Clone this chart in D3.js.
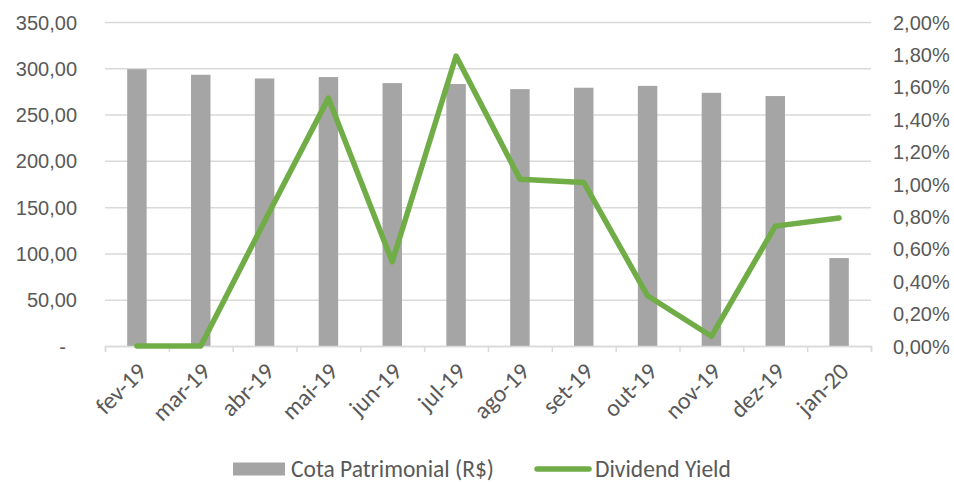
<!DOCTYPE html>
<html>
<head>
<meta charset="utf-8">
<script src="https://cdn.jsdelivr.net/npm/d3@7"></script>
<style>
  body { margin: 0; background: #fff; }
  svg { display: block; font-family: Carlito, Calibri, "Open Sans", sans-serif; }
  .lbl { fill: #595959; font-size: 20px; }
  .big { fill: #595959; font-size: 24px; }
  .leg { fill: #595959; font-size: 23.5px; }
</style>
</head>
<body>
<svg id="chart" width="954" height="482"></svg>
<script>
// months on the category axis
const months = ['fev-19', 'mar-19', 'abr-19', 'mai-19', 'jun-19', 'jul-19',
                'ago-19', 'set-19', 'out-19', 'nov-19', 'dez-19', 'jan-20'];
// Cota Patrimonial (R$), bars, left axis
const cota = [299, 293, 289, 290.5, 284, 283, 277.5, 279, 281, 273.5, 270, 95];
// Dividend Yield, line, right axis (fraction)
const dy = [0, 0, 0.0077, 0.0153, 0.0052, 0.0179, 0.0103, 0.0101, 0.0031, 0.0006, 0.0074, 0.0079];

const leftTicks = [0, 50, 100, 150, 200, 250, 300, 350];
const rightTicks = [0, 0.002, 0.004, 0.006, 0.008, 0.01, 0.012, 0.014, 0.016, 0.018, 0.02];

const ptBR = d3.formatLocale({ decimal: ',', thousands: '.', grouping: [3], currency: ['R$', ''] });
const fmtNum = ptBR.format(',.2f');
const fmtPct = ptBR.format('.2%');

const L = 105, R = 871, T = 22, B = 346;
const svg = d3.select('#chart');

const x = d3.scaleBand().domain(months).range([L, R]).padding(0);
const xi = d3.scaleLinear().domain([0, months.length]).range([L, R]);
const yL = d3.scaleLinear().domain([0, 350]).range([B, T]);
const yR = d3.scaleLinear().domain([0, 0.02]).range([B, T]);

const grid = '#d9d9d9';

// gridlines + left labels
const gl = svg.append('g')
  .attr('transform', `translate(${L},0)`)
  .call(d3.axisLeft(yL).tickValues(leftTicks).tickSize(-(R - L)).tickPadding(28)
    .tickFormat(d => d === 0 ? '-' : fmtNum(d)));
gl.select('.domain').remove();
gl.selectAll('.tick line').attr('stroke', grid).attr('stroke-width', 1.5);
gl.selectAll('.tick text').attr('class', 'lbl').attr('font-family', null).attr('font-size', null)
  .attr('fill', null).attr('dy', '0.35em');
gl.selectAll('.tick text').filter(d => d === 0).attr('dx', -11);

// right labels
const gr = svg.append('g')
  .attr('transform', `translate(${R},0)`)
  .call(d3.axisRight(yR).tickValues(rightTicks).tickSize(0).tickPadding(22).tickFormat(fmtPct));
gr.select('.domain').remove();
gr.selectAll('.tick text').attr('class', 'lbl').attr('font-family', null).attr('font-size', null)
  .attr('fill', null).attr('dy', '0.35em');

// bars
const bw = x.bandwidth() * 0.305;
svg.append('g').selectAll('rect')
  .data(cota)
  .join('rect')
  .attr('x', (d, i) => x(months[i]) + (x.bandwidth() - bw) / 2)
  .attr('y', d => yL(d))
  .attr('width', bw)
  .attr('height', d => B - yL(d))
  .attr('fill', '#a5a5a5');

// category axis with ticks at band boundaries
const gx = svg.append('g')
  .attr('transform', `translate(0,${B})`)
  .call(d3.axisBottom(xi).ticks(months.length).tickSize(6).tickFormat(''));
gx.select('.domain').attr('stroke', grid).attr('stroke-width', 1.5);
gx.selectAll('.tick line').attr('stroke', grid).attr('stroke-width', 1.5);

// rotated month labels
svg.append('g').selectAll('text')
  .data(months)
  .join('text')
  .attr('class', 'big')
  .attr('text-anchor', 'end')
  .attr('transform', d => `translate(${x(d) + x.bandwidth() / 2 + 11},${B + 27}) rotate(-45)`)
  .text(d => d);

// dividend yield line
const line = d3.line()
  .x((d, i) => x(months[i]) + x.bandwidth() / 2)
  .y(d => yR(d));
svg.append('path')
  .datum(dy)
  .attr('d', line)
  .attr('fill', 'none')
  .attr('stroke', '#70ad47')
  .attr('stroke-width', 5.5)
  .attr('stroke-linejoin', 'round')
  .attr('stroke-linecap', 'round');

// legend
const lg = svg.append('g').attr('transform', 'translate(0,469)');
lg.append('rect').attr('x', 233).attr('y', -6.5).attr('width', 52).attr('height', 13).attr('fill', '#a5a5a5');
lg.append('text').attr('class', 'leg').attr('x', 291).attr('dy', '0.33em').text('Cota Patrimonial (R$)');
lg.append('line').attr('x1', 537).attr('x2', 589).attr('stroke', '#70ad47')
  .attr('stroke-width', 5.5).attr('stroke-linecap', 'round');
lg.append('text').attr('class', 'leg').attr('x', 595).attr('dy', '0.33em').text('Dividend Yield');
</script>
</body>
</html>
